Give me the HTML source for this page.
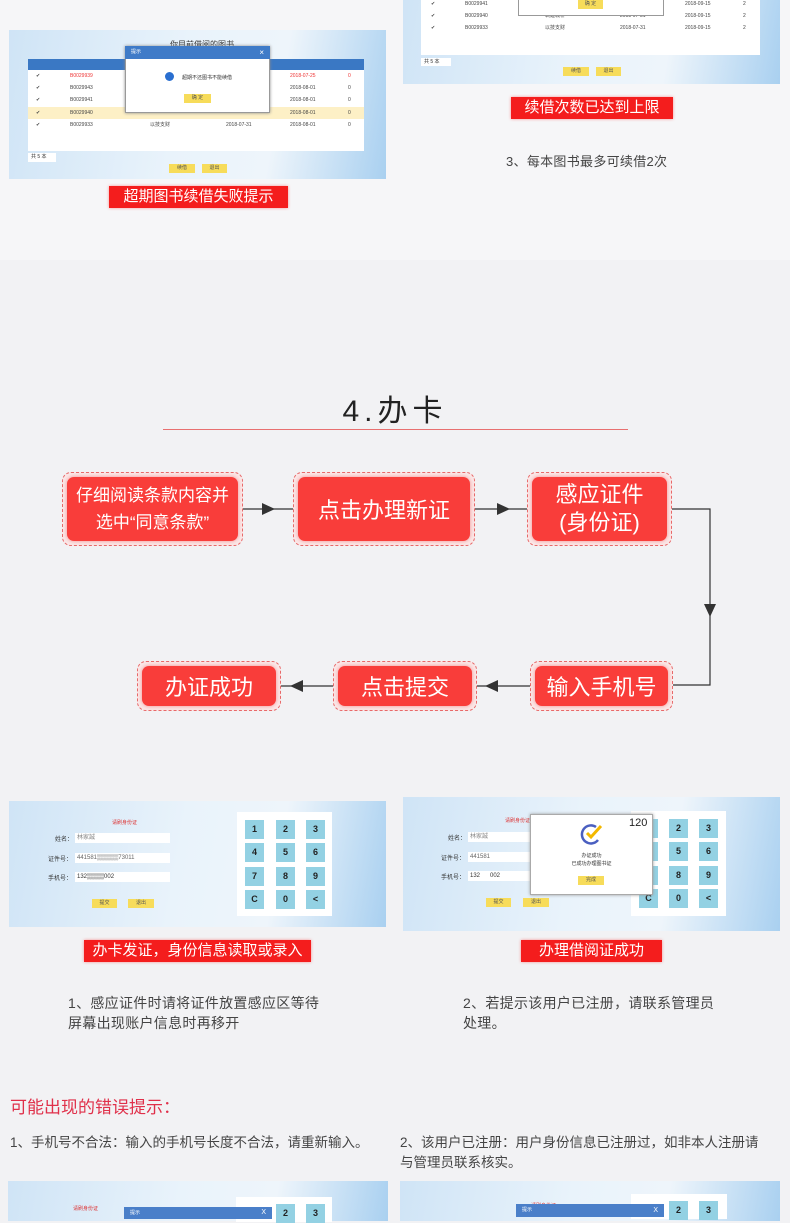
<!DOCTYPE html>
<html><head><meta charset="utf-8"><style>
*{margin:0;padding:0;box-sizing:border-box}
body{width:790px;height:1217px;position:relative;overflow:hidden;background:#f2f2f4;font-family:"Liberation Sans","Noto Sans CJK SC",sans-serif;color:#333}
.a{position:absolute}
.scr{position:absolute;background:linear-gradient(100deg,#cfe4f6 0%,#e9f3fb 45%,#eef5fb 70%,#a9d0f0 100%)}
.lbl{position:absolute;background:#f41d1d;color:#fff;text-align:center;font-size:15px;line-height:22px;box-shadow:0 0 3px rgba(255,0,0,.4)}
.btn{position:absolute;background:#f7dc5a;font-size:5px;text-align:center;line-height:9px;color:#555}
.fb{position:absolute;border:1px dashed #e86a6a;border-radius:9px;background:#fbe8e8}
.fb div{position:absolute;inset:4px;background:#f93d3a;border-radius:7px;color:#fff;display:flex;align-items:center;justify-content:center;text-align:center;box-shadow:0 0 4px rgba(240,50,50,.5)}
.key{position:absolute;width:19px;height:19px;background:#93d1e3;font-size:9px;font-weight:bold;text-align:center;line-height:19px;color:#222}
.row{position:absolute;font-size:5px;color:#444;height:12px;line-height:12px}
.txt{position:absolute;font-size:14px;color:#444;line-height:20px;letter-spacing:0.3px}
</style></head><body>
<div class="a" style="left:0;top:0;width:790px;height:260px;background:#f6f6f8"></div>

<div class="scr" style="left:9px;top:30px;width:377px;height:149px"></div>
<div class="a" style="left:170px;top:39px;font-size:8px;color:#333">你目前借阅的图书</div>
<div class="a" style="left:28px;top:59px;width:336px;height:92px;background:#fff"></div>
<div class="a" style="left:28px;top:59px;width:336px;height:11px;background:#3a78c4"></div>
<div class="a" style="left:28px;top:107px;width:336px;height:12px;background:#fdf0c6"></div>
<div class="row" style="left:36px;top:70px">✔</div><div class="row" style="left:70px;top:70px;color:#e33">B0029939</div><div class="row" style="left:290px;top:70px;color:#e33">2018-07-25</div><div class="row" style="left:348px;top:70px;color:#e33">0</div>
<div class="row" style="left:36px;top:82px">✔</div><div class="row" style="left:70px;top:82px">B0029943</div><div class="row" style="left:290px;top:82px">2018-08-01</div><div class="row" style="left:348px;top:82px">0</div>
<div class="row" style="left:36px;top:94px">✔</div><div class="row" style="left:70px;top:94px">B0029941</div><div class="row" style="left:290px;top:94px">2018-08-01</div><div class="row" style="left:348px;top:94px">0</div>
<div class="row" style="left:36px;top:107px">✔</div><div class="row" style="left:70px;top:107px">B0029940</div><div class="row" style="left:290px;top:107px">2018-08-01</div><div class="row" style="left:348px;top:107px">0</div>
<div class="row" style="left:36px;top:119px">✔</div><div class="row" style="left:70px;top:119px">B0029933</div><div class="row" style="left:150px;top:119px">以技支财</div><div class="row" style="left:226px;top:119px">2018-07-31</div><div class="row" style="left:290px;top:119px">2018-08-01</div><div class="row" style="left:348px;top:119px">0</div>
<div class="a" style="left:28px;top:153px;width:28px;height:9px;background:#fff;font-size:5px;line-height:9px;padding-left:3px">共 5 本</div>
<div class="btn" style="left:169px;top:164px;width:26px">续借</div><div class="btn" style="left:202px;top:164px;width:25px">退出</div>
<div class="a" style="left:125px;top:46px;width:145px;height:67px;background:#fff;border:1px solid #999;box-shadow:0 0 3px #888"></div>
<div class="a" style="left:125px;top:46px;width:145px;height:13px;background:#3f7bc8;color:#fff;font-size:5px;line-height:13px;padding-left:6px">提示<span style="float:right;margin-right:6px;font-size:8px">×</span></div>
<div class="a" style="left:165px;top:72px;width:9px;height:9px;border-radius:50%;background:#2a6fd0"></div>
<div class="a" style="left:182px;top:74px;font-size:5px">超期不还图书不能续借</div>
<div class="btn" style="left:184px;top:94px;width:27px">确 定</div>
<div class="lbl" style="left:109px;top:186px;width:179px">超期图书续借失败提示</div>

<div class="scr" style="left:403px;top:0;width:377px;height:84px"></div>
<div class="a" style="left:421px;top:0;width:339px;height:55px;background:#fff"></div>
<div class="row" style="left:431px;top:-2px">✔</div><div class="row" style="left:465px;top:-2px">B0029941</div><div class="row" style="left:685px;top:-2px">2018-09-15</div><div class="row" style="left:743px;top:-2px">2</div>
<div class="row" style="left:431px;top:10px">✔</div><div class="row" style="left:465px;top:10px">B0029940</div><div class="row" style="left:545px;top:10px">筑建城析</div><div class="row" style="left:620px;top:10px">2018-07-31</div><div class="row" style="left:685px;top:10px">2018-09-15</div><div class="row" style="left:743px;top:10px">2</div>
<div class="row" style="left:431px;top:22px">✔</div><div class="row" style="left:465px;top:22px">B0029933</div><div class="row" style="left:545px;top:22px">以技支财</div><div class="row" style="left:620px;top:22px">2018-07-31</div><div class="row" style="left:685px;top:22px">2018-09-15</div><div class="row" style="left:743px;top:22px">2</div>
<div class="a" style="left:518px;top:0;width:146px;height:16px;background:#fff;border:1px solid #999;border-top:none"></div>
<div class="btn" style="left:578px;top:0;width:25px">确 定</div>
<div class="a" style="left:421px;top:58px;width:30px;height:8px;background:#fff;font-size:5px;line-height:8px;padding-left:3px">共 5 本</div>
<div class="btn" style="left:563px;top:67px;width:26px">续借</div><div class="btn" style="left:596px;top:67px;width:25px">退出</div>
<div class="lbl" style="left:511px;top:97px;width:162px">续借次数已达到上限</div>
<div class="txt" style="left:506px;top:152px;font-size:13px">3、每本图书最多可续借2次</div>

<div class="a" style="left:0;top:386px;width:790px;text-align:center;font-size:30px;letter-spacing:5px;color:#222">4.办卡</div>
<div class="a" style="left:163px;top:429px;width:465px;height:1px;background:#e87070"></div>

<div class="fb" style="left:62px;top:472px;width:181px;height:74px"><div style="font-size:17px;line-height:27px">仔细阅读条款内容并<br>选中“同意条款”</div></div>
<div class="fb" style="left:293px;top:472px;width:182px;height:74px"><div style="font-size:22px">点击办理新证</div></div>
<div class="fb" style="left:527px;top:472px;width:145px;height:74px"><div style="font-size:22px;line-height:28px">感应证件<br>(身份证)</div></div>
<div class="fb" style="left:530px;top:661px;width:143px;height:50px"><div style="font-size:22px">输入手机号</div></div>
<div class="fb" style="left:333px;top:661px;width:144px;height:50px"><div style="font-size:22px">点击提交</div></div>
<div class="fb" style="left:137px;top:661px;width:144px;height:50px"><div style="font-size:22px">办证成功</div></div>
<svg class="a" style="left:0;top:0" width="790" height="760">
<g stroke="#333" stroke-width="1.2" fill="none">
<line x1="243" y1="509" x2="293" y2="509"/>
<line x1="475" y1="509" x2="527" y2="509"/>
<polyline points="672,509 710,509 710,685 673,685"/>
<line x1="530" y1="686" x2="477" y2="686"/><line x1="333" y1="686" x2="281" y2="686"/>
</g>
<g fill="#333">
<polygon points="262,503 262,515 275,509"/>
<polygon points="497,503 497,515 510,509"/>
<polygon points="704,604 716,604 710,617"/>
<polygon points="498,680 498,692 485,686"/>
<polygon points="303,680 303,692 290,686"/>
</g></svg>

<div class="scr" style="left:9px;top:801px;width:377px;height:126px"></div>
<div class="a" style="left:112px;top:819px;font-size:5px;color:#d33">请刷身份证</div>
<div class="a" style="left:55px;top:834px;font-size:6px">姓名：</div><div class="a" style="left:75px;top:833px;width:95px;height:10px;background:#fff;font-size:6px;line-height:10px;color:#888;padding-left:2px">林家誠</div>
<div class="a" style="left:48px;top:854px;font-size:6px">证件号：</div><div class="a" style="left:75px;top:853px;width:95px;height:10px;background:#fff;font-size:6px;line-height:10px;color:#666;padding-left:2px">441581▒▒▒▒▒73011</div>
<div class="a" style="left:48px;top:873px;font-size:6px">手机号：</div><div class="a" style="left:75px;top:872px;width:95px;height:10px;background:#fff;font-size:6px;line-height:10px;color:#333;padding-left:2px">132▒▒▒▒002</div>
<div class="btn" style="left:92px;top:899px;width:25px">提交</div><div class="btn" style="left:128px;top:899px;width:26px">退出</div>
<div class="a" style="left:237px;top:812px;width:95px;height:104px;background:#fff"></div>
<div class="key" style="left:245px;top:820px">1</div><div class="key" style="left:276px;top:820px">2</div><div class="key" style="left:306px;top:820px">3</div>
<div class="key" style="left:245px;top:843px">4</div><div class="key" style="left:276px;top:843px">5</div><div class="key" style="left:306px;top:843px">6</div>
<div class="key" style="left:245px;top:867px">7</div><div class="key" style="left:276px;top:867px">8</div><div class="key" style="left:306px;top:867px">9</div>
<div class="key" style="left:245px;top:890px">C</div><div class="key" style="left:276px;top:890px">0</div><div class="key" style="left:306px;top:890px">&lt;</div>
<div class="lbl" style="left:84px;top:940px;width:227px">办卡发证，身份信息读取或录入</div>

<div class="scr" style="left:403px;top:797px;width:377px;height:134px"></div>
<div class="a" style="left:505px;top:817px;font-size:5px;color:#d33">请刷身份证</div>
<div class="a" style="left:448px;top:833px;font-size:6px">姓名：</div><div class="a" style="left:468px;top:832px;width:80px;height:10px;background:#fff;font-size:6px;line-height:10px;color:#888;padding-left:2px">林家誠</div>
<div class="a" style="left:441px;top:853px;font-size:6px">证件号：</div><div class="a" style="left:468px;top:852px;width:80px;height:10px;background:#fff;font-size:6px;line-height:10px;color:#666;padding-left:2px">441581</div>
<div class="a" style="left:441px;top:872px;font-size:6px">手机号：</div><div class="a" style="left:468px;top:871px;width:80px;height:10px;background:#fff;font-size:6px;line-height:10px;color:#333;padding-left:2px">132&nbsp;&nbsp;&nbsp;&nbsp;&nbsp;&nbsp;002</div>
<div class="btn" style="left:486px;top:898px;width:25px">提交</div><div class="btn" style="left:523px;top:898px;width:26px">退出</div>
<div class="a" style="left:631px;top:811px;width:95px;height:105px;background:#fff"></div>
<div class="key" style="left:639px;top:819px"></div><div class="key" style="left:669px;top:819px">2</div><div class="key" style="left:699px;top:819px">3</div>
<div class="key" style="left:639px;top:842px"></div><div class="key" style="left:669px;top:842px">5</div><div class="key" style="left:699px;top:842px">6</div>
<div class="key" style="left:639px;top:866px"></div><div class="key" style="left:669px;top:866px">8</div><div class="key" style="left:699px;top:866px">9</div>
<div class="key" style="left:639px;top:889px">C</div><div class="key" style="left:669px;top:889px">0</div><div class="key" style="left:699px;top:889px">&lt;</div>
<div class="a" style="left:530px;top:814px;width:123px;height:81px;background:#fff;border:1px solid #aaa;box-shadow:0 0 3px #999"></div>
<div class="a" style="left:629px;top:817px;font-size:11px;color:#222">120</div>
<svg class="a" style="left:580px;top:822px" width="24" height="24"><path d="M18 18 A9 9 0 1 1 16 5" stroke="#4a5fc0" stroke-width="2.5" fill="none"/><path d="M7 11 L11 15 L21 4" stroke="#f3b800" stroke-width="3" fill="none"/></svg>
<div class="a" style="left:530px;top:852px;width:123px;text-align:center;font-size:5px;line-height:8px">办证成功<br>已成功办理图书证</div>
<div class="btn" style="left:578px;top:876px;width:26px">完成</div>
<div class="lbl" style="left:521px;top:940px;width:141px">办理借阅证成功</div>

<div class="txt" style="left:68px;top:993px">1、感应证件时请将证件放置感应区等待<br>屏幕出现账户信息时再移开</div>
<div class="txt" style="left:463px;top:993px">2、若提示该用户已注册，请联系管理员<br>处理。</div>

<div class="a" style="left:10px;top:1093px;font-size:17px;color:#e0304a">可能出现的错误提示：</div>
<div class="txt" style="left:10px;top:1133px;font-size:13.5px;letter-spacing:0">1、手机号不合法：输入的手机号长度不合法，请重新输入。</div>
<div class="txt" style="left:400px;top:1133px;width:362px;font-size:13.5px;letter-spacing:0">2、该用户已注册：用户身份信息已注册过，如非本人注册请与管理员联系核实。</div>

<div class="scr" style="left:8px;top:1181px;width:380px;height:40px"></div>
<div class="a" style="left:236px;top:1197px;width:96px;height:25px;background:#fff"></div>
<div class="key" style="left:276px;top:1204px">2</div><div class="key" style="left:306px;top:1204px">3</div>
<div class="a" style="left:73px;top:1205px;font-size:5px;color:#d33">请刷身份证</div>
<div class="a" style="left:124px;top:1207px;width:148px;height:12px;background:#4a7fc9;color:#fff;font-size:5px;line-height:12px;padding-left:6px">提示<span style="float:right;margin-right:6px;font-size:7px">X</span></div>

<div class="scr" style="left:400px;top:1181px;width:380px;height:40px"></div>
<div class="a" style="left:631px;top:1194px;width:96px;height:25px;background:#fff"></div>
<div class="key" style="left:669px;top:1201px">2</div><div class="key" style="left:699px;top:1201px">3</div>
<div class="a" style="left:531px;top:1202px;font-size:5px;color:#d33">请刷身份证</div>
<div class="a" style="left:516px;top:1204px;width:148px;height:13px;background:#4a7fc9;color:#fff;font-size:5px;line-height:13px;padding-left:6px">提示<span style="float:right;margin-right:6px;font-size:7px">X</span></div>
</body></html>
